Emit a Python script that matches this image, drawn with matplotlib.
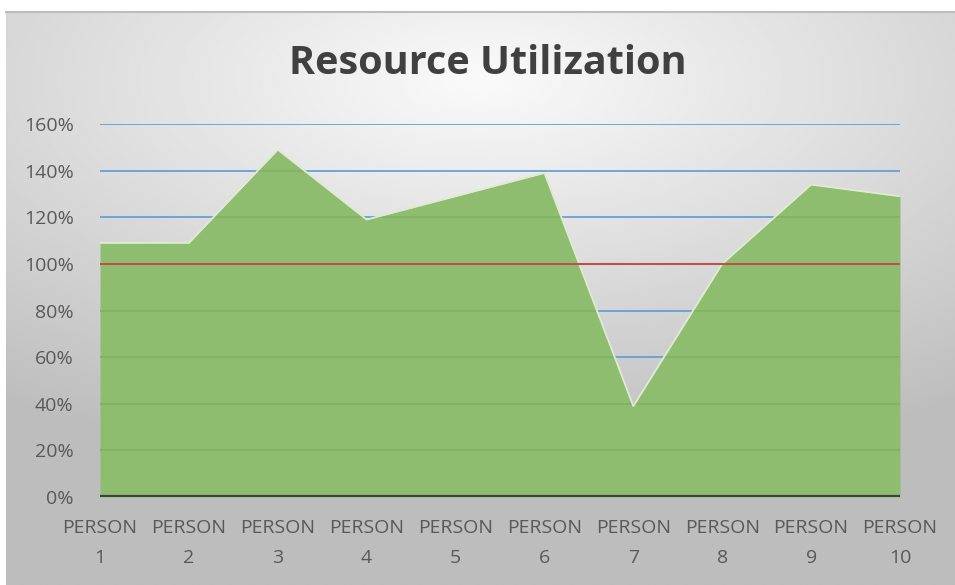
import matplotlib
matplotlib.use("Agg")
import matplotlib.pyplot as plt
import numpy as np

people = ["PERSON\n1", "PERSON\n2", "PERSON\n3", "PERSON\n4", "PERSON\n5",
          "PERSON\n6", "PERSON\n7", "PERSON\n8", "PERSON\n9", "PERSON\n10"]
utilization = [1.09, 1.09, 1.49, 1.19, 1.29, 1.39, 0.39, 1.00, 1.34, 1.29]
target = 1.00
y_ticks = [0, 0.2, 0.4, 0.6, 0.8, 1.0, 1.2, 1.4, 1.6]

plt.rcParams["font.family"] = ["Open Sans", "DejaVu Sans"]

fig = plt.figure(figsize=(9.55, 5.85), dpi=100)

# gradient background of the chart area (white margin top/left)
bg = fig.add_axes([6 / 955, 0, 949 / 955, 1 - 11 / 585], zorder=-10)
yy, xx = np.mgrid[0:1:300j, 0:1:500j]
dist = np.sqrt(((xx - 0.5) * 1.0) ** 2 + ((yy - 0.12) * 1.3) ** 2)
shade = np.clip(0.98 - 0.27 * dist, 0.74, 0.98)
bg.imshow(shade, cmap="gray", vmin=0, vmax=1, aspect="auto", extent=[0, 1, 0, 1], origin="upper")
bg.axis("off")
fig.add_artist(plt.Line2D([6 / 955, 1], [1 - 12 / 585, 1 - 12 / 585], color="#bdbdbd", lw=1.5))

ax = fig.add_axes([100 / 955, 1 - 497 / 585, 800 / 955, 373 / 585])
ax.patch.set_alpha(0)

x = np.arange(len(people))
for t in y_ticks[1:]:
    ax.axhline(t, color="#5b9bd5", lw=1.2, zorder=1)
area = ax.fill_between(x, utilization, 0, color="#8fbd70", lw=0, zorder=2)
# gridlines faintly visible through the area
for t in y_ticks[1:]:
    gl = ax.axhline(t, color="#7fb063", lw=1.2, zorder=2.5)
    gl.set_clip_path(area.get_paths()[0], ax.transData)
ax.plot(x, utilization, color="#dfead3", lw=1.3, zorder=3)
ax.axhline(target, color="#c0504d", lw=1.5, zorder=4)
ax.axhline(0, color="#404040", lw=3, zorder=5)

ax.set_xlim(0, len(people) - 1)
ax.set_ylim(0, 1.6)
ax.set_yticks(y_ticks)
ax.set_yticklabels([f"{int(round(t * 100))}%" for t in y_ticks])
ax.set_xticks(x)
ax.set_xticklabels(people, linespacing=1.85)
ax.tick_params(length=0, labelsize=14, colors="#595959")
ax.tick_params(axis="y", pad=19)
ax.tick_params(axis="x", pad=16)
for s in ax.spines.values():
    s.set_visible(False)

fig.text(488 / 955, 1 - 64 / 585, "Resource Utilization", ha="center", va="center",
         fontsize=28.5, fontweight="bold", color="#404040")

fig.savefig("out.png", dpi=100)
